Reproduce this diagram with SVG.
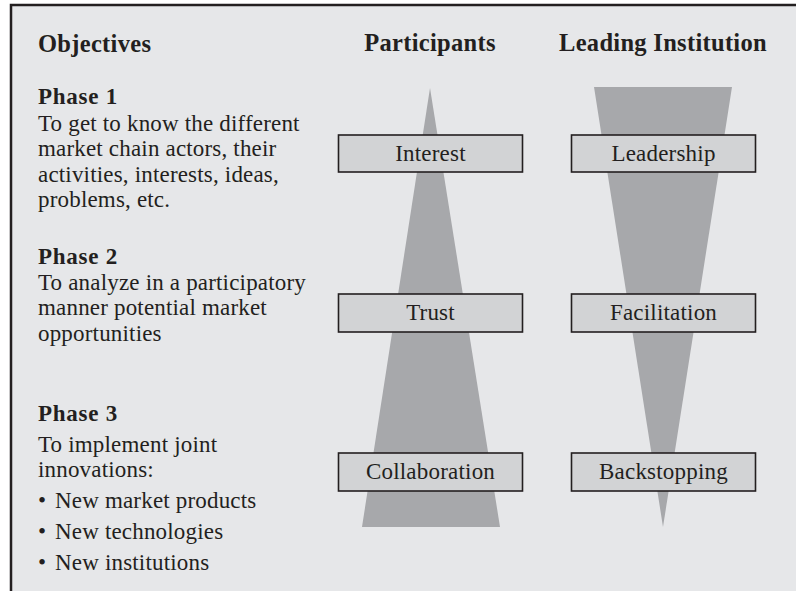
<svg xmlns="http://www.w3.org/2000/svg" width="796" height="591" viewBox="0 0 796 591">
  <style>
    .frame { fill: #e6e7e9; stroke: #231f20; stroke-width: 2.5; }
    .wedge { fill: #a7a8ab; }
    .box { fill: #d2d3d5; stroke: #231f20; stroke-width: 1.6; }
    text { font-family: "Liberation Serif", "DejaVu Serif", serif; fill: #231f20; }
    .head { font-size: 24.5px; font-weight: bold; letter-spacing: 0.3px; }
    .phase { font-size: 23px; font-weight: bold; letter-spacing: 0.75px; }
    .body { font-size: 23px; letter-spacing: 0.18px; }
    .label { font-size: 23px; letter-spacing: 0.2px; text-anchor: middle; }
  </style>

  <rect width="796" height="591" fill="#ffffff"/>
  <rect class="frame" x="11" y="5" width="800" height="600"/>

  <!-- column headings -->
  <g id="headings">
    <text class="head" x="38" y="52">Objectives</text>
    <text class="head" x="430" y="51" text-anchor="middle">Participants</text>
    <text class="head" x="663" y="51" text-anchor="middle">Leading Institution</text>
  </g>

  <!-- objectives per phase -->
  <g id="phase1">
    <text class="phase" x="38" y="104">Phase 1</text>
    <text class="body" x="38" y="130.5">To get to know the different</text>
    <text class="body" x="38" y="156">market chain actors, their</text>
    <text class="body" x="38" y="181.5">activities, interests, ideas,</text>
    <text class="body" x="38" y="207">problems, etc.</text>
  </g>
  <g id="phase2">
    <text class="phase" x="38" y="264">Phase 2</text>
    <text class="body" x="38" y="289.5">To analyze in a participatory</text>
    <text class="body" x="38" y="315">manner potential market</text>
    <text class="body" x="38" y="340.5">opportunities</text>
  </g>
  <g id="phase3">
    <text class="phase" x="38" y="421">Phase 3</text>
    <text class="body" x="38" y="452">To implement joint</text>
    <text class="body" x="38" y="477">innovations:</text>
    <text class="body" x="38" y="508">•</text>
    <text class="body" x="55" y="508">New market products</text>
    <text class="body" x="38" y="539">•</text>
    <text class="body" x="55" y="539">New technologies</text>
    <text class="body" x="38" y="570">•</text>
    <text class="body" x="55" y="570">New institutions</text>
  </g>

  <!-- participants: widening wedge -->
  <g id="participants">
    <polygon class="wedge" points="430,88 500,527 362,527"/>
    <g id="interest">
      <rect class="box" x="338.5" y="135" width="184" height="37"/>
      <text class="label" x="430.5" y="161">Interest</text>
    </g>
    <g id="trust">
      <rect class="box" x="338.5" y="294" width="184" height="38"/>
      <text class="label" x="430.5" y="320">Trust</text>
    </g>
    <g id="collaboration">
      <rect class="box" x="338.5" y="453" width="184" height="38"/>
      <text class="label" x="430.5" y="479">Collaboration</text>
    </g>
  </g>

  <!-- leading institution: narrowing wedge -->
  <g id="institution">
    <polygon class="wedge" points="594,87 732,87 663,527"/>
    <g id="leadership">
      <rect class="box" x="571.5" y="135" width="184" height="37"/>
      <text class="label" x="663.5" y="161">Leadership</text>
    </g>
    <g id="facilitation">
      <rect class="box" x="571.5" y="294" width="184" height="38"/>
      <text class="label" x="663.5" y="320">Facilitation</text>
    </g>
    <g id="backstopping">
      <rect class="box" x="571.5" y="453" width="184" height="38"/>
      <text class="label" x="663.5" y="479">Backstopping</text>
    </g>
  </g>
</svg>
